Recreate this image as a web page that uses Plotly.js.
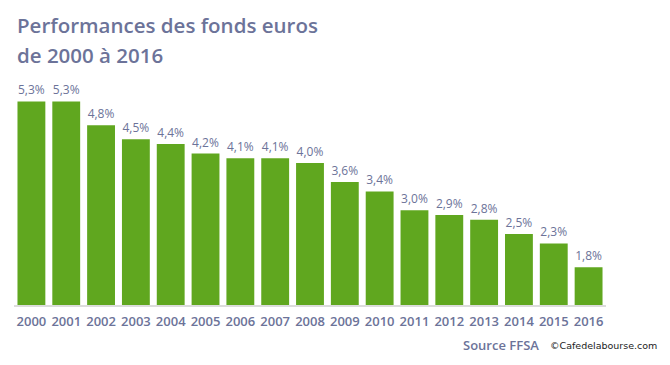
<!DOCTYPE html>
<html>
<head>
<meta charset="utf-8">
<script src="https://cdn.plot.ly/plotly-3.0.1.min.js"></script>
<style>html,body{margin:0;padding:0;background:#fff;}</style>
</head>
<body>
<div id="chart" style="width:670px;height:365px;"></div>
<script>
var years = ["2000","2001","2002","2003","2004","2005","2006","2007","2008","2009","2010","2011","2012","2013","2014","2015","2016"];
var rates = [5.3,5.3,4.8,4.5,4.4,4.2,4.1,4.1,4.0,3.6,3.4,3.0,2.9,2.8,2.5,2.3,1.8];
var labels = rates.map(function(v){ return v.toFixed(1).replace('.', ',') + '%'; });
var titleLines = ['Performances des fonds euros', 'de 2000 à 2016'];

var textColor = '#6c7399';
var plotTop = 92, plotBottom = 305, plotH = plotBottom - plotTop;
function py(px){ return (plotBottom - px) / plotH; }

var trace = {
  type: 'bar',
  x: years,
  y: rates,
  text: labels,
  textposition: 'outside',
  cliponaxis: false,
  textfont: {family: 'Open Sans', size: 12, color: textColor},
  marker: {color: '#60a71f'},
  hoverinfo: 'none'
};

var layout = {
  width: 670,
  height: 365,
  margin: {l: 14, r: 64, t: plotTop, b: 365 - plotBottom},
  paper_bgcolor: '#ffffff',
  plot_bgcolor: '#ffffff',
  bargap: 0.2,
  showlegend: false,
  xaxis: {
    type: 'category',
    showgrid: false,
    showline: true,
    linecolor: '#dcdcdc',
    linewidth: 2,
    ticks: '',
    tickfont: {family: 'Open Sans', size: 13, color: textColor, weight: 600},
    ticklabelstandoff: 3,
    fixedrange: true
  },
  yaxis: {
    range: [1.0, 5.5],
    visible: false,
    showgrid: false,
    zeroline: false,
    fixedrange: true
  },
  annotations: [
    {
      text: titleLines[0],
      xref: 'paper', yref: 'paper',
      x: (15-14)/592, xanchor: 'left',
      y: py(25), yanchor: 'middle',
      showarrow: false,
      font: {family: 'Open Sans', size: 20.5, color: textColor, weight: 600}
    },
    {
      text: titleLines[1],
      xref: 'paper', yref: 'paper',
      x: (15-14)/592, xanchor: 'left',
      y: py(55), yanchor: 'middle',
      showarrow: false,
      font: {family: 'Open Sans', size: 20.5, color: textColor, weight: 600}
    },
    {
      text: 'Source FFSA',
      xref: 'paper', yref: 'paper',
      x: (541-14)/592, xanchor: 'right',
      y: py(345), yanchor: 'middle',
      showarrow: false,
      font: {family: 'Open Sans', size: 13, color: textColor, weight: 600}
    },
    {
      text: '©Cafedelabourse.com',
      xref: 'paper', yref: 'paper',
      x: (548-14)/592, xanchor: 'left',
      y: py(345), yanchor: 'middle',
      showarrow: false,
      font: {family: 'DejaVu Sans', size: 9.5, color: '#222222'}
    }
  ]
};

Plotly.newPlot('chart', [trace], layout, {displayModeBar: false, staticPlot: true});
</script>
</body>
</html>
